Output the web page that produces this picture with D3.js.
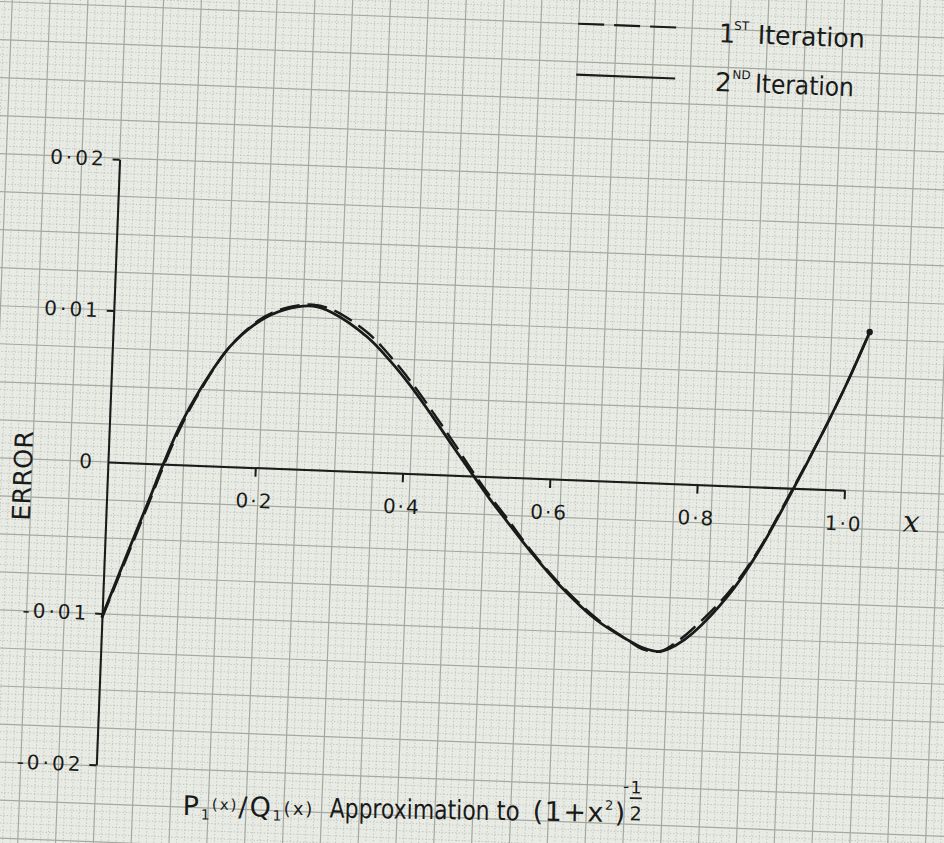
<!DOCTYPE html>
<html>
<head>
<meta charset="utf-8">
<script src="https://cdn.jsdelivr.net/npm/d3@7"></script>
<style>
body { margin: 0; background: #e8ebe3; }
svg { display: block; }
</style>
</head>
<body>
<svg id="chart" width="944" height="843"></svg>
<script>
// values
const xs = [0, 0.039, 0.059, 0.075, 0.096, 0.121, 0.159, 0.199, 0.232, 0.270, 0.297, 0.345, 0.377, 0.406, 0.438, 0.467, 0.498,
            0.520, 0.544, 0.577, 0.619, 0.671, 0.713, 0.735, 0.758, 0.781, 0.802, 0.847, 0.885, 0.926, 0.968, 0.998, 1.026];
const errIter2 = [-0.0102, -0.0049, -0.0022, 0.0000, 0.0026, 0.0050, 0.0079, 0.0097, 0.0105, 0.0108, 0.0104, 0.0089, 0.0074, 0.0058, 0.0038, 0.0019, -0.0001,
                  -0.0015, -0.0029, -0.0048, -0.0070, -0.0092, -0.0104, -0.0109, -0.0111, -0.0106, -0.0098, -0.0073, -0.0044, -0.0005, 0.0038, 0.0071, 0.0105];
const errIter1 = [-0.0103, -0.0051, -0.0024, -0.0002, 0.0024, 0.0049, 0.0079, 0.0098, 0.0106, 0.0109, 0.0106, 0.0092, 0.0077, 0.0061, 0.0041, 0.0022, 0.0001,
                  -0.0013, -0.0027, -0.0047, -0.0069, -0.0091, -0.0104, -0.0110, -0.0111, -0.0104, -0.0095, -0.0071, -0.0043, -0.0004, 0.0038, 0.0071, 0.0105];
const xTicks = [0.2, 0.4, 0.6, 0.8, 1.0];
const yTicks = [0.02, 0.01, 0, -0.01, -0.02];
const legendNums = ["1", "2"];
const legendSups = ["ST", "ND"];
const legendWord = "Iteration";

const W = 944, H = 843;
const ink = "#1a1a1a";
const font = "DejaVu Sans, sans-serif";

const svg = d3.select("#chart");
svg.append("rect").attr("width", W).attr("height", H).attr("fill", "#e8ebe3");

// the sheet was scanned a little crooked, so everything lives in a tilted group
const g = svg.append("g").attr("transform", "translate(108,462) rotate(2.2)");

const x = d3.scaleLinear([0, 1], [0, 737]);
const y = d3.scaleLinear([-0.02, 0.02], [303, -303]);

// graph paper
const cw = 37.8, ch = 38;
const gx0 = -180, gx1 = 900, gy0 = -540, gy1 = 440;
const paper = g.append("g");
const vMinor = d3.range(Math.ceil(gx0 / (cw / 5)), Math.floor(gx1 / (cw / 5))).filter(k => k % 5 !== 0);
const hMinor = d3.range(Math.ceil(gy0 / (ch / 5)), Math.floor(gy1 / (ch / 5))).filter(k => k % 5 !== 0);
paper.selectAll(".vmin").data(vMinor).join("line")
    .attr("x1", k => k * cw / 5).attr("x2", k => k * cw / 5)
    .attr("y1", gy0).attr("y2", gy1)
    .attr("stroke", "#bcc0b9").attr("stroke-width", 0.9).attr("stroke-dasharray", "1.3,2");
paper.selectAll(".hmin").data(hMinor).join("line")
    .attr("y1", k => k * ch / 5).attr("y2", k => k * ch / 5)
    .attr("x1", gx0).attr("x2", gx1)
    .attr("stroke", "#bcc0b9").attr("stroke-width", 0.9).attr("stroke-dasharray", "1.3,2");
paper.selectAll(".vmaj").data(d3.range(Math.ceil(gx0 / cw), Math.floor(gx1 / cw) + 1)).join("line")
    .attr("x1", k => k * cw).attr("x2", k => k * cw)
    .attr("y1", gy0).attr("y2", gy1)
    .attr("stroke", "#a3a8a1").attr("stroke-width", 1.2);
paper.selectAll(".hmaj").data(d3.range(Math.ceil(gy0 / ch), Math.floor(gy1 / ch) + 1)).join("line")
    .attr("y1", k => k * ch).attr("y2", k => k * ch)
    .attr("x1", gx0).attr("x2", gx1)
    .attr("stroke", "#a3a8a1").attr("stroke-width", 1.2);

// axes
const xAxis = d3.axisBottom(x).tickValues(xTicks).tickSize(9).tickSizeOuter(0).tickPadding(17)
    .tickFormat(d => d.toFixed(1).replace(".", "\u00b7"));
const gx = g.append("g").call(xAxis);

const yAxis = d3.axisLeft(y).tickValues(yTicks).tickSize(7).tickSizeOuter(0).tickPadding(6)
    .tickFormat(d => d === 0 ? "0" : d.toFixed(2).replace(".", "\u00b7"));
const gy = g.append("g").call(yAxis);
gy.selectAll(".tick").filter(d => d === 0).select("line").remove();

[gx, gy].forEach(a => {
    a.attr("font-family", font).attr("font-size", 20);
    a.selectAll("path, line").attr("stroke", ink).attr("stroke-width", 2);
    a.selectAll("text").attr("fill", ink);
});
gx.selectAll("text").attr("letter-spacing", 2);
gy.selectAll("text").attr("letter-spacing", 3);

// curves
const pts1 = xs.map((v, i) => [v, errIter1[i]]);
const pts2 = xs.map((v, i) => [v, errIter2[i]]);
const line = d3.line().x(d => x(d[0])).y(d => y(d[1])).curve(d3.curveCatmullRom.alpha(0.5));

g.append("path").datum(pts1)
    .attr("fill", "none").attr("stroke", ink).attr("stroke-width", 2.4)
    .attr("stroke-dasharray", "20,8").attr("d", line);
g.append("path").datum(pts2)
    .attr("fill", "none").attr("stroke", ink).attr("stroke-width", 2.8)
    .attr("stroke-linecap", "round").attr("d", line);
g.append("circle")
    .attr("cx", x(xs[xs.length - 1])).attr("cy", y(errIter2[errIter2.length - 1]))
    .attr("r", 3.2).attr("fill", ink);

// axis names
g.append("text")
    .attr("transform", "translate(-76,17) rotate(-90)")
    .attr("text-anchor", "middle")
    .attr("font-family", font).attr("font-size", 25)
    .attr("textLength", 90).attr("lengthAdjust", "spacingAndGlyphs")
    .attr("fill", ink)
    .text("ERROR");
g.append("text")
    .attr("x", 805).attr("y", 39)
    .attr("text-anchor", "middle")
    .attr("font-family", "DejaVu Serif, serif").attr("font-style", "italic").attr("font-size", 30)
    .attr("fill", ink)
    .text("x");

// legend
const keyY = [-456, -405];
const labY = [-443, -394];
const lg = g.append("g").attr("font-family", font).attr("fill", ink);
lg.selectAll(".key").data(legendNums).join("line")
    .attr("x1", 453).attr("x2", 552)
    .attr("y1", (d, i) => keyY[i]).attr("y2", (d, i) => keyY[i])
    .attr("stroke", ink).attr("stroke-width", 2.2)
    .attr("stroke-dasharray", (d, i) => i === 0 ? "26,10" : null);
lg.selectAll(".num").data(legendNums).join("text")
    .attr("x", (d, i) => i === 0 ? 594 : 592).attr("y", (d, i) => labY[i])
    .attr("font-size", 26).text(d => d);
lg.selectAll(".sup").data(legendSups).join("text")
    .attr("x", (d, i) => i === 0 ? 609 : 609).attr("y", (d, i) => labY[i] - 13)
    .attr("font-size", 12).text(d => d);
lg.selectAll(".word").data(legendNums).join("text")
    .attr("x", (d, i) => i === 0 ? 633 : 632).attr("y", (d, i) => labY[i])
    .attr("font-size", 26)
    .attr("textLength", (d, i) => i === 0 ? 107 : 99).attr("lengthAdjust", "spacingAndGlyphs")
    .text(legendWord);

// title, written a touch less slanted than the paper
const tg = g.append("g").attr("transform", "translate(88,350) rotate(-1.3)")
    .attr("font-family", font).attr("fill", ink);
const t1 = tg.append("text").attr("x", 0).attr("y", 0).attr("font-size", 27).attr("letter-spacing", 2);
t1.append("tspan").text("P");
t1.append("tspan").attr("font-size", 14).attr("dy", 4).text("1");
t1.append("tspan").attr("font-size", 15).attr("dy", -10).text("(x)");
t1.append("tspan").attr("dy", 6).text("/Q");
t1.append("tspan").attr("font-size", 14).attr("dy", 4).text("1");
t1.append("tspan").attr("font-size", 18).attr("dy", -6).text("(x)");
tg.append("text").attr("x", 147).attr("y", 0).attr("font-size", 27)
    .attr("textLength", 160).attr("lengthAdjust", "spacingAndGlyphs").text("Approximation");
tg.append("text").attr("x", 314).attr("y", 0).attr("font-size", 27)
    .attr("textLength", 23).attr("lengthAdjust", "spacingAndGlyphs").text("to");
const t3 = tg.append("text").attr("x", 350).attr("y", 0).attr("font-size", 27).attr("letter-spacing", 1.5);
t3.append("tspan").text("(1+x");
t3.append("tspan").attr("font-size", 13).attr("dy", -12).text("2");
t3.append("tspan").attr("dy", 12).text(")");
tg.append("text").attr("x", 440).attr("y", -30).attr("font-size", 17).text("-");
tg.append("text").attr("x", 453).attr("y", -29).attr("font-size", 17).attr("text-anchor", "middle").text("1");
tg.append("line").attr("x1", 447).attr("x2", 459).attr("y1", -24).attr("y2", -24)
    .attr("stroke", ink).attr("stroke-width", 1.6);
tg.append("text").attr("x", 453).attr("y", -2).attr("font-size", 19).attr("text-anchor", "middle").text("2");
</script>
</body>
</html>
